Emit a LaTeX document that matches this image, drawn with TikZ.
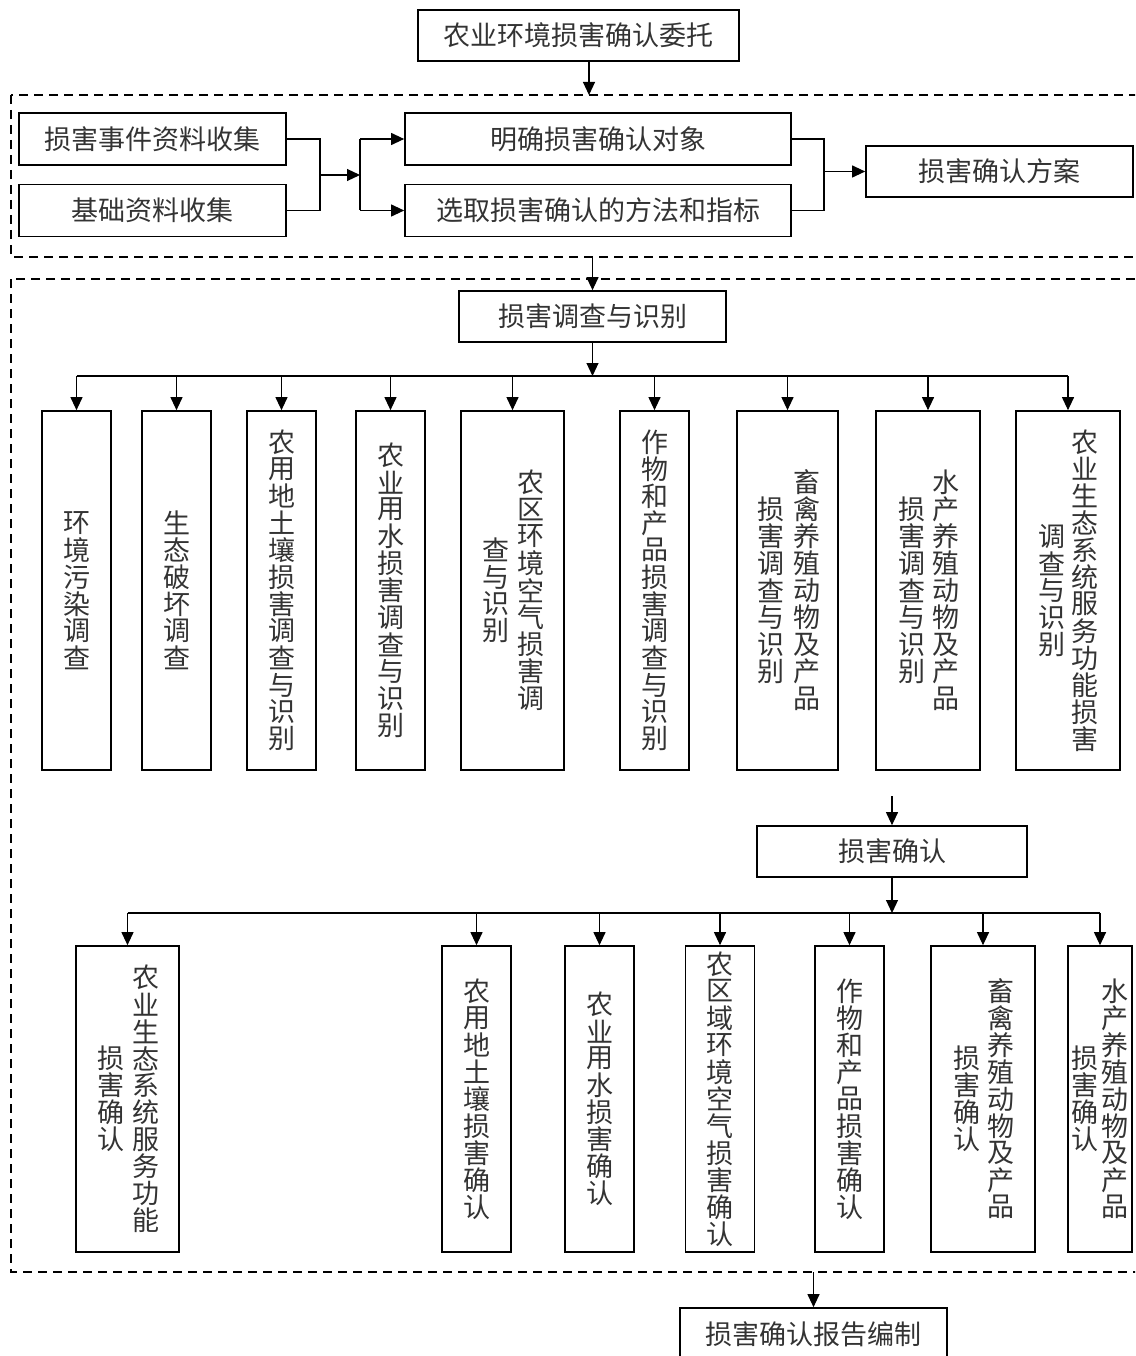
\documentclass[tikz,border=0pt]{standalone}
\usepackage{fontspec}
\setmainfont{Noto Sans CJK SC}
\usetikzlibrary{arrows.meta}
\newcommand\fsz{\fontsize{27pt}{27pt}\selectfont}
\newcommand\vtx[1]{\vbox{\offinterlineskip\vtxaux#1\relax}}
\def\vtxaux#1#2\relax{\vbox to 27pt{\vss\hbox to 27pt{\hss#1\hss}\vss}\ifx\relax#2\relax\else\vtxaux#2\relax\fi}
\tikzset{
  bx/.style={draw, line width=1.7pt, inner sep=0pt, font=\fsz, text=black!80},
  txt/.style={inner sep=0pt, font=\fsz, text=black!80},
  arr/.style={line width=1.1pt, -{Triangle[width=12pt,length=13pt]}},
  ln/.style={line width=1.1pt},
  dsh/.style={line width=1.6pt, dash pattern=on 9pt off 6pt},
  hb/.style={bx, minimum width=267pt, minimum height=52pt},
  va/.style={bx, minimum height=359pt},
  vb/.style={bx, minimum height=306pt},
}
\begin{document}
\begin{tikzpicture}[x=1pt,y=-1pt]
\useasboundingbox (0,0) rectangle (1135,1356);
\clip (0,0) rectangle (1135,1356);
% dashed regions
\coordinate (r1tl) at (11,95); \coordinate (r1br) at (1170,257);
\draw[dsh] (r1tl) rectangle (r1br);
\coordinate (r2tl) at (11,279); \coordinate (r2br) at (1170,1272);
\draw[dsh] (r2tl) rectangle (r2br);

% stage 1
\node[bx, minimum width=321pt, minimum height=51pt] (wt) at (578.5,35.5) {农业环境损害确认委托};
\coordinate (t1) at (589,95);
\draw[arr] (wt.south -| t1) -- (t1);

\node[hb] (b1) at (152.5,139) {损害事件资料收集};
\node[hb] (b2) at (152.5,210.5) {基础资料收集};
\node[hb, minimum width=386pt] (m1) at (598,139) {明确损害确认对象};
\node[hb, minimum width=386pt] (m2) at (598,210.5) {选取损害确认的方法和指标};
\node[hb, minimum height=51pt] (fa) at (999.5,171.5) {损害确认方案};
\coordinate (j1) at (320,175);
\coordinate (j2) at (360,175);
\coordinate (j3) at (824,171.5);
\draw[ln] (b1.east) -| (j1);
\draw[ln] (b2.east) -| (j1);
\draw[arr] (j1) -- (j2);
\draw[ln] (j2) -- (j2 |- m1.west);
\draw[ln] (j2) -- (j2 |- m2.west);
\draw[arr] (j2 |- m1.west) -- (m1.west);
\draw[arr] (j2 |- m2.west) -- (m2.west);
\draw[ln] (m1.east) -| (j3);
\draw[ln] (m2.east) -| (j3);
\draw[arr] (j3) -- (fa.west);

% stage 2
\node[hb, minimum height=51pt] (inv) at (592.5,316.5) {损害调查与识别};
\draw[arr] (inv.north |- r1br) -- (inv.north);
\coordinate (bus1) at (0,376);

\node[va, minimum width=69pt] (s1) at (76.5,590.5) {\vtx{环境污染调查}};
\node[va, minimum width=69pt] (s2) at (176.5,590.5) {\vtx{生态破坏调查}};
\node[va, minimum width=69pt] (s3) at (281.5,590.5) {\vtx{农用地土壤损害调查与识别}};
\node[va, minimum width=69pt] (s4) at (390.5,590.5) {\vtx{农业用水损害调查与识别}};
\node[va, minimum width=103pt] (s5) at (512.5,590.5) {};
\node[txt] (s5r) at ([xshift=18pt]s5.center) {\vtx{农区环境空气损害调}};
\node[txt] (s5l) at ([xshift=-17pt]s5.center) {\vtx{查与识别}};
\node[va, minimum width=69pt] (s6) at (654.5,590.5) {\vtx{作物和产品损害调查与识别}};
\node[va, minimum width=101pt] (s7) at (787.5,590.5) {};
\node[txt] (s7r) at ([xshift=19pt]s7.center) {\vtx{畜禽养殖动物及产品}};
\node[txt] (s7l) at ([xshift=-17pt]s7.center) {\vtx{损害调查与识别}};
\node[va, minimum width=104pt] (s8) at (928,590.5) {};
\node[txt] (s8r) at ([xshift=18pt]s8.center) {\vtx{水产养殖动物及产品}};
\node[txt] (s8l) at ([xshift=-16pt]s8.center) {\vtx{损害调查与识别}};
\node[va, minimum width=104pt] (s9) at (1068,590.5) {};
\node[txt] (s9r) at ([xshift=17pt]s9.center) {\vtx{农业生态系统服务功能损害}};
\node[txt] (s9l) at ([xshift=-16pt]s9.center) {\vtx{调查与识别}};

\draw[arr] (inv.south) -- (inv.south |- bus1);
\draw[ln] (s1.north |- bus1) -- (s9.north |- bus1);
\foreach \n in {s1,s2,s3,s4,s5,s6,s7,s8,s9}
  \draw[arr] (\n.north |- bus1) -- (\n.north);

% stage 3
\node[hb, minimum width=270pt, minimum height=51pt] (dc) at (892,851.5) {损害确认};
\coordinate (dcin) at (892,796);
\draw[arr] (dcin) -- (dc.north);
\coordinate (bus2) at (0,913);

\node[vb, minimum width=103pt] (q1) at (127.5,1099) {};
\node[txt] (q1r) at ([xshift=18pt]q1.center) {\vtx{农业生态系统服务功能}};
\node[txt] (q1l) at ([xshift=-17pt]q1.center) {\vtx{损害确认}};
\node[vb, minimum width=69pt] (q2) at (476.5,1099) {\vtx{农用地土壤损害确认}};
\node[vb, minimum width=69pt] (q3) at (599.5,1099) {\vtx{农业用水损害确认}};
\node[vb, minimum width=69pt] (q4) at (720,1099) {\vtx{农区域环境空气损害确认}};
\node[vb, minimum width=69pt] (q5) at (849.5,1099) {\vtx{作物和产品损害确认}};
\node[vb, minimum width=104pt] (q6) at (983,1099) {};
\node[txt] (q6r) at ([xshift=18pt]q6.center) {\vtx{畜禽养殖动物及产品}};
\node[txt] (q6l) at ([xshift=-16pt]q6.center) {\vtx{损害确认}};
\node[vb, minimum width=64pt] (q7) at (1100,1099) {};
\node[txt] (q7r) at ([xshift=15pt]q7.center) {\vtx{水产养殖动物及产品}};
\node[txt] (q7l) at ([xshift=-15pt]q7.center) {\vtx{损害确认}};

\draw[arr] (dc.south) -- (dc.south |- bus2);
\draw[ln] (q1.north |- bus2) -- (q7.north |- bus2);
\foreach \n in {q1,q2,q3,q4,q5,q6,q7}
  \draw[arr] (\n.north |- bus2) -- (\n.north);

% report
\node[hb, minimum height=52pt] (rp) at (813.5,1334) {损害确认报告编制};
\draw[arr] (rp.north |- r2br) -- (rp.north);
\end{tikzpicture}
\end{document}
